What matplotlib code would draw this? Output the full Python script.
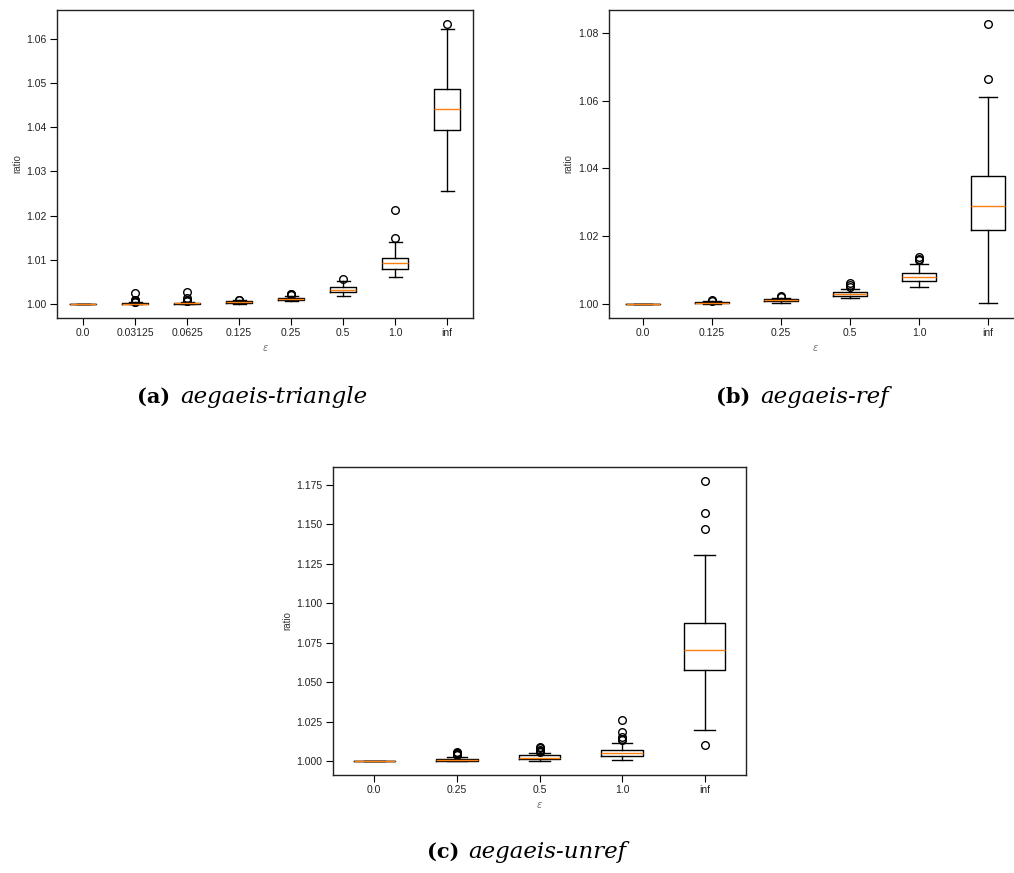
import matplotlib
matplotlib.use("Agg")
import matplotlib.pyplot as plt

# ---------------- data ----------------
# (a) aegaeis-triangle
a_labels = ['0.0', '0.03125', '0.0625', '0.125', '0.25', '0.5', '1.0', 'inf']
a_whislo = [1.0000, 1.0000, 1.0000, 1.0001, 1.0006, 1.0017, 1.0061, 1.0256]
a_q1 = [1.0000, 1.0000, 1.0001, 1.0003, 1.0008, 1.0026, 1.0079, 1.0394]
a_med = [1.0000, 1.0001, 1.0002, 1.0004, 1.0011, 1.0032, 1.0092, 1.0441]
a_q3 = [1.0000, 1.0002, 1.0003, 1.0006, 1.0013, 1.0038, 1.0105, 1.0486]
a_whishi = [1.0000, 1.0004, 1.0005, 1.0008, 1.0018, 1.0053, 1.0140, 1.0621]
a_fliers = [[],
            [1.0004, 1.0005, 1.0006, 1.0007, 1.0008, 1.0010, 1.0025],
            [1.0006, 1.0007, 1.0010, 1.0013, 1.0028],
            [1.0009, 1.0010],
            [1.0020, 1.0022, 1.0023],
            [1.0057],
            [1.0149, 1.0212],
            [1.0633]]

# (b) aegaeis-ref
b_labels = ['0.0', '0.125', '0.25', '0.5', '1.0', 'inf']
b_whislo = [1.0000, 1.0000, 1.0004, 1.0017, 1.0050, 1.0002]
b_q1 = [1.0000, 1.0002, 1.0008, 1.0024, 1.0069, 1.0219]
b_med = [1.0000, 1.0004, 1.0011, 1.0029, 1.0080, 1.0288]
b_q3 = [1.0000, 1.0006, 1.0014, 1.0034, 1.0091, 1.0378]
b_whishi = [1.0000, 1.0008, 1.0019, 1.0044, 1.0118, 1.0611]
b_fliers = [[],
            [1.0010, 1.0012],
            [1.0021, 1.0023],
            [1.0050, 1.0055, 1.0063],
            [1.0130, 1.0134, 1.0140],
            [1.0663, 1.0826]]

# (c) aegaeis-unref
c_labels = ['0.0', '0.25', '0.5', '1.0', 'inf']
c_whislo = [1.0000, 1.0000, 1.0003, 1.0004, 1.0195]
c_q1 = [1.0000, 1.0003, 1.0015, 1.0032, 1.0577]
c_med = [1.0000, 1.0009, 1.0022, 1.0051, 1.0704]
c_q3 = [1.0000, 1.0013, 1.0035, 1.0070, 1.0873]
c_whishi = [1.0000, 1.0028, 1.0052, 1.0117, 1.1309]
c_fliers = [[],
            [1.0035, 1.0042, 1.0048, 1.0053, 1.0060],
            [1.0058, 1.0065, 1.0072, 1.0080, 1.0086],
            [1.0135, 1.0142, 1.0155, 1.0184, 1.0260],
            [1.0104, 1.1473, 1.1569, 1.1775]]

captions = [('(a)', 'aegaeis-triangle'), ('(b)', 'aegaeis-ref'), ('(c)', 'aegaeis-unref')]

# ---------------- drawing ----------------
W, H = 1014, 873
fig = plt.figure(figsize=(W / 100, H / 100), dpi=100)


def px_axes(left, top, right, bottom):
    return fig.add_axes([left / W, (H - bottom) / H, (right - left) / W, (bottom - top) / H])


def make_stats(labels, whislo, q1, med, q3, whishi, fliers):
    return [dict(label=l, whislo=wl, q1=a, med=m, q3=b, whishi=wh, fliers=f)
            for l, wl, a, m, b, wh, f in zip(labels, whislo, q1, med, q3, whishi, fliers)]


def draw(ax, stats):
    ax.bxp(stats,
           boxprops=dict(color='black', linewidth=1.0),
           whiskerprops=dict(color='black', linewidth=1.0),
           capprops=dict(color='black', linewidth=1.0),
           medianprops=dict(color='#ff7f0e', linewidth=1.0),
           flierprops=dict(marker='o', markerfacecolor='none', markeredgecolor='black',
                           markersize=5.5, markeredgewidth=1.0))
    for s in ax.spines.values():
        s.set_linewidth(1.0)
        s.set_color('#222222')
    ax.tick_params(axis='both', labelsize=7.5, length=5, width=0.8, pad=2.5,
                   labelcolor='#222222')
    for t in ax.get_xticklabels() + ax.get_yticklabels():
        t.set_fontfamily('Liberation Sans')
    ax.set_ylabel('ratio', fontsize=7, family='Liberation Sans', color='#333333', labelpad=3)
    ax.set_xlabel(r'$\varepsilon$', fontsize=7, color='#777777', labelpad=3)


ax_a = px_axes(57, 10, 473, 318)
draw(ax_a, make_stats(a_labels, a_whislo, a_q1, a_med, a_q3, a_whishi, a_fliers))

ax_b = px_axes(608.5, 10, 1022.5, 318)
draw(ax_b, make_stats(b_labels, b_whislo, b_q1, b_med, b_q3, b_whishi, b_fliers))

ax_c = px_axes(333, 467, 746, 775)
draw(ax_c, make_stats(c_labels, c_whislo, c_q1, c_med, c_q3, c_whishi, c_fliers))


def caption(x_tag, x_name, y, tag, name):
    fig.text(x_tag / W, 1 - y / H, tag, fontsize=15, fontweight='bold', family='DejaVu Serif',
             ha='left', va='center')
    fig.text(x_name / W, 1 - y / H, name, fontsize=16.5, style='italic', family='DejaVu Serif',
             ha='left', va='center')


caption(137, 180, 397, *captions[0])
caption(716, 760, 397, *captions[1])
caption(427, 468, 852, *captions[2])

fig.savefig('out.png', dpi=100)
